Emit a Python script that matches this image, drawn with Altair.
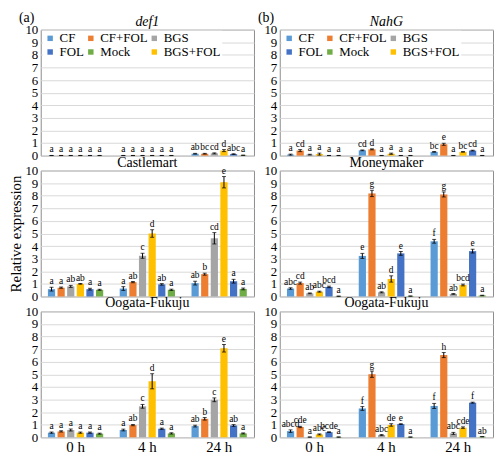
import altair as alt
import pandas as pd

SERIF = "Liberation Serif"

treatments = ["CF", "CF+FOL", "BGS", "BGS+FOL", "FOL", "Mock"]
legend_order = ["CF", "CF+FOL", "BGS", "FOL", "Mock", "BGS+FOL"]
legend_colors = ["#5B9BD5", "#ED7D31", "#A5A5A5", "#4472C4", "#70AD47", "#FFC000"]
times = ["0 h", "4 h", "24 h"]
tags = ["(a)", "(b)"]
y_ticks = [0, 1, 2, 3, 4, 5, 6, 7, 8, 9, 10]

# values are time-major: 0 h (6 treatments), 4 h, 24 h
def1_vals = [0.01, 0.01, 0.01, 0.01, 0.01, 0.01,
             0.01, 0.01, 0.01, 0.01, 0.01, 0.01,
             0.15, 0.15, 0.18, 0.40, 0.12, 0.03]
def1_errs = [0.005] * 12 + [0.03, 0.03, 0.04, 0.08, 0.03, 0.01]
def1_lets = ["a"] * 12 + ["ab", "bc", "cd", "d", "abc", "a"]

nahg_vals = [0.08, 0.40, 0.08, 0.12, 0.01, 0.01,
             0.42, 0.50, 0.01, 0.15, 0.01, 0.01,
             0.30, 0.90, 0.01, 0.30, 0.40, 0.01]
nahg_errs = [0.04, 0.08, 0.03, 0.08, 0.005, 0.005,
             0.03, 0.04, 0.005, 0.05, 0.005, 0.005,
             0.03, 0.08, 0.005, 0.03, 0.03, 0.005]
nahg_lets = ["a", "cd", "a", "a", "a", "a",
             "cd", "d", "a", "a", "a", "a",
             "bc", "e", "a", "bc", "cd", "a"]

cast_vals = [0.58, 0.70, 0.80, 1.00, 0.58, 0.53,
             0.63, 1.14, 3.23, 5.00, 0.96, 0.53,
             1.06, 1.77, 4.62, 9.07, 1.21, 0.60]
cast_errs = [0.15, 0.05, 0.08, 0.03, 0.07, 0.04,
             0.15, 0.05, 0.20, 0.30, 0.06, 0.05,
             0.15, 0.08, 0.45, 0.45, 0.15, 0.07]
cast_lets = ["a", "a", "ab", "ab", "a", "a",
             "a", "ab", "c", "d", "ab", "a",
             "ab", "b", "cd", "e", "a", "a"]

oogl_vals = [0.37, 0.47, 0.58, 0.37, 0.37, 0.29,
             0.58, 0.97, 2.46, 4.45, 0.68, 0.31,
             0.89, 1.47, 2.98, 7.07, 0.94, 0.31]
oogl_errs = [0.05, 0.05, 0.08, 0.05, 0.05, 0.04,
             0.07, 0.05, 0.15, 0.60, 0.05, 0.05,
             0.07, 0.10, 0.15, 0.30, 0.07, 0.04]
oogl_lets = ["a", "a", "a", "a", "a", "a",
             "a", "ab", "c", "d", "a", "a",
             "ab", "b", "c", "e", "ab", "a"]

money_vals = [0.63, 1.06, 0.25, 0.38, 0.76, 0.02,
              3.22, 8.18, 0.33, 1.39, 3.42, 0.03,
              4.38, 8.10, 0.20, 0.91, 3.60, 0.08]
money_errs = [0.06, 0.08, 0.03, 0.04, 0.06, 0.01,
              0.20, 0.25, 0.04, 0.25, 0.15, 0.01,
              0.15, 0.20, 0.03, 0.07, 0.15, 0.02]
money_lets = ["abc", "cd", "ab", "abc", "bcd", "a",
              "e", "g", "ab", "d", "e", "a",
              "f", "g", "ab", "bcd", "e", "a"]

oogr_vals = [0.49, 0.82, 0.02, 0.23, 0.41, 0.02,
             2.29, 5.01, 0.18, 0.98, 1.05, 0.02,
             2.49, 6.53, 0.31, 0.77, 2.75, 0.05]
oogr_errs = [0.10, 0.05, 0.01, 0.04, 0.03, 0.01,
             0.15, 0.25, 0.04, 0.10, 0.03, 0.01,
             0.20, 0.20, 0.08, 0.06, 0.04, 0.01]
oogr_lets = ["abcd", "cde", "a", "abc", "bcde", "a",
             "f", "g", "abc", "de", "e", "a",
             "f", "h", "abc", "cde", "f", "ab"]

W = 215
H = 127


def panel(vals, errs, lets, title, italic, show_legend, show_x, y_title, tag=None):
    rows = []
    for i, (v, e, l) in enumerate(zip(vals, errs, lets)):
        rows.append({"time": times[i // 6], "treat": treatments[i % 6],
                     "val": v, "lo": max(v - e, 0), "hi": v + e, "let": l})
    df = pd.DataFrame(rows)
    if show_x:
        xaxis = alt.Axis(title=None, labelAngle=0, labelFont=SERIF, labelFontSize=15,
                         labelColor="black", ticks=False, domain=False, labelPadding=2)
    else:
        xaxis = None
    yaxis = alt.Axis(values=y_ticks, title=y_title if y_title else None,
                     titleFont=SERIF, titleFontSize=15, titleFontWeight="normal",
                     titleColor="black", titlePadding=1,
                     labelFont=SERIF, labelFontSize=13, labelColor="black",
                     labelOverlap=False, labelBound=False,
                     ticks=False, domain=False, labelPadding=3,
                     grid=True, gridColor="#D9D9D9")
    yscale = alt.Scale(domain=[0, 10], nice=False)

    def Y(field):
        return alt.Y(field, type="quantitative", scale=yscale, axis=yaxis)

    base = alt.Chart(df).encode(
        x=alt.X("time:N", sort=times, axis=xaxis,
                scale=alt.Scale(paddingInner=0.23, paddingOuter=0.1)),
        xOffset=alt.XOffset("treat:N", sort=treatments,
                            scale=alt.Scale(paddingInner=0.25)),
    )
    if show_legend:
        leg = alt.Legend(orient="none", legendX=2, legendY=1, direction="horizontal",
                         columns=3, title=None,
                         symbolType="square", symbolSize=30, symbolStrokeWidth=0,
                         labelFont=SERIF, labelFontSize=13, labelColor="black",
                         padding=1, fillColor="white",
                         columnPadding=0, rowPadding=0, labelOffset=3)
    else:
        leg = None
    bars = base.mark_bar().encode(
        y=Y("val"),
        color=alt.Color("treat:N", scale=alt.Scale(domain=legend_order, range=legend_colors),
                        legend=leg),
    )
    rules = base.mark_rule(color="black", strokeWidth=1).encode(y=Y("lo"), y2="hi:Q")
    cap_hi = base.mark_tick(color="black", thickness=1, size=4).encode(y=Y("hi"))
    cap_lo = base.mark_tick(color="black", thickness=1, size=4).encode(y=Y("lo"))
    txt = base.mark_text(baseline="bottom", dy=-1, font=SERIF, fontSize=9.5,
                         color="black").encode(y=Y("hi"), text="let:N")
    tdf = pd.DataFrame({"t": [title]})
    ttl = alt.Chart(tdf).mark_text(align="center", baseline="bottom", font=SERIF,
                                   fontSize=14, color="black",
                                   fontStyle="italic" if italic else "normal").encode(
        x=alt.value(W / 2), y=alt.value(-1), text="t:N")
    layers = [bars, rules, cap_hi, cap_lo, txt, ttl]
    if tag:
        gdf = pd.DataFrame({"t": [tag]})
        layers.append(alt.Chart(gdf).mark_text(align="left", baseline="top", font=SERIF,
                                               fontSize=14, color="black").encode(
            x=alt.value(-22), y=alt.value(-19), text="t:N"))
    return alt.layer(*layers).properties(width=W, height=H)


panels = [
    panel(def1_vals, def1_errs, def1_lets, "def1", True, True, False, None, tags[0]),
    panel(nahg_vals, nahg_errs, nahg_lets, "NahG", True, True, False, None, tags[1]),
    panel(cast_vals, cast_errs, cast_lets, "Castlemart", False, False, False, "Relative expression"),
    panel(money_vals, money_errs, money_lets, "Moneymaker", False, False, False, None),
    panel(oogl_vals, oogl_errs, oogl_lets, "Oogata-Fukuju", False, False, True, None),
    panel(oogr_vals, oogr_errs, oogr_lets, "Oogata-Fukuju", False, False, True, None),
]

chart = alt.concat(*panels, columns=2, spacing={"row": 15, "column": 26},
                   bounds="flush").resolve_scale(color="independent").properties(
    padding={"left": 0, "top": 0, "right": 0, "bottom": 0}
).configure_view(stroke="#8C8C8C", strokeWidth=1)

chart.save("out.html", embed_options={"renderer": "svg", "actions": False})
